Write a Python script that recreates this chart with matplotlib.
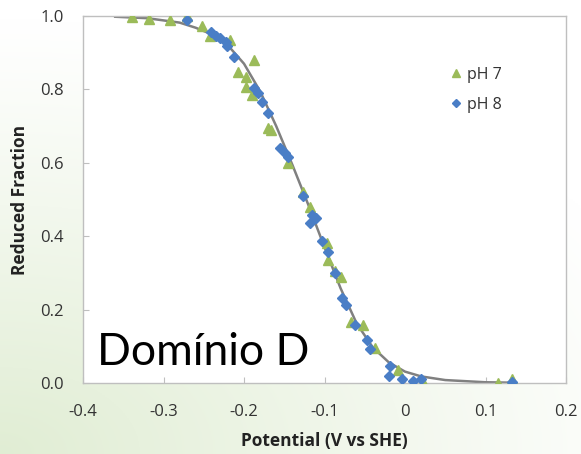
import numpy as np
import matplotlib
matplotlib.use("Agg")
import matplotlib.pyplot as plt
from matplotlib.lines import Line2D

# pH 7 data (green triangles)
ph7_x = [-0.339, -0.318, -0.292, -0.271, -0.252, -0.242, -0.217, -0.188, -0.207, -0.198,
         -0.198, -0.190, -0.170, -0.166, -0.145, -0.127, -0.118, -0.097, -0.096, -0.087,
         -0.080, -0.067, -0.052, -0.037, -0.009, 0.022, 0.116, 0.133]
ph7_y = [0.997, 0.992, 0.989, 1.000, 0.973, 0.946, 0.935, 0.880, 0.847, 0.834,
         0.807, 0.785, 0.695, 0.689, 0.599, 0.520, 0.480, 0.381, 0.335, 0.305,
         0.289, 0.166, 0.158, 0.095, 0.035, 0.003, 0.000, 0.011]

# pH 8 data (blue diamonds)
ph8_x = [-0.271, -0.241, -0.235, -0.230, -0.222, -0.221, -0.212, -0.188, -0.183, -0.178,
         -0.170, -0.155, -0.149, -0.145, -0.127, -0.116, -0.111, -0.118, -0.103, -0.096,
         -0.087, -0.078, -0.073, -0.062, -0.047, -0.043, -0.019, -0.020, -0.004, 0.010,
         0.020, 0.133]
ph8_y = [0.989, 0.956, 0.946, 0.940, 0.929, 0.918, 0.888, 0.804, 0.790, 0.766,
         0.736, 0.640, 0.627, 0.616, 0.510, 0.458, 0.450, 0.436, 0.387, 0.357,
         0.300, 0.232, 0.213, 0.158, 0.117, 0.093, 0.046, 0.019, 0.011, 0.005,
         0.011, 0.003]

# fitted curve
fit_x = [-0.36, -0.32, -0.28, -0.26, -0.24, -0.22, -0.20, -0.18, -0.16, -0.14, -0.12,
         -0.10, -0.08, -0.06, -0.04, -0.02, 0.00, 0.02, 0.05, 0.10, 0.13]
fit_y = [0.998, 0.994, 0.982, 0.968, 0.950, 0.920, 0.870, 0.795, 0.700, 0.595, 0.485,
         0.370, 0.258, 0.162, 0.097, 0.056, 0.031, 0.018, 0.008, 0.002, 0.001]

x_ticks = [-0.4, -0.3, -0.2, -0.1, 0, 0.1, 0.2]
x_tick_labels = ["-0.4", "-0.3", "-0.2", "-0.1", "0", "0.1", "0.2"]
y_ticks = [0.0, 0.2, 0.4, 0.6, 0.8, 1.0]
y_tick_labels = ["0.0", "0.2", "0.4", "0.6", "0.8", "1.0"]

GREEN = "#9BBB59"
BLUE = "#4A7EC6"

plt.rcParams['font.family'] = ['Open Sans', 'DejaVu Sans']

fig = plt.figure(figsize=(5.81, 4.54), dpi=100)

# background gradient
bg = fig.add_axes([0, 0, 1, 1], zorder=-10)
h, w = 200, 256
yy, xx = np.mgrid[0:h, 0:w]
u = xx / (w - 1)
v = 1 - yy / (h - 1)  # 0 at bottom
d = np.sqrt((u * 0.95) ** 2 + (v * 1.2) ** 2)
wgt = np.clip(1 - d / 1.15, 0, 1) ** 1.1
base = np.array([1.0, 1.0, 1.0])
tint = np.array([0.88, 0.93, 0.83])
img = base[None, None, :] * (1 - wgt[..., None]) + tint[None, None, :] * wgt[..., None]
bg.imshow(img, aspect='auto', extent=[0, 1, 0, 1], origin='upper')
bg.set_axis_off()

ax = fig.add_axes([83 / 581, 1 - 383 / 454, (566 - 83) / 581, (383 - 16) / 454])
ax.set_facecolor("white")

ax.plot(fit_x, fit_y, color="#808080", lw=1.8, zorder=2)
ax.plot(ph7_x, ph7_y, linestyle="none", marker="^", ms=7.5, color=GREEN, mec=GREEN, zorder=3)
ax.plot(ph8_x, ph8_y, linestyle="none", marker="D", ms=5.5, color=BLUE, mec=BLUE, zorder=4)

ax.set_xlim(-0.4, 0.2)
ax.set_ylim(0, 1.0)
ax.set_xticks(x_ticks)
ax.set_xticklabels(x_tick_labels)
ax.set_yticks(y_ticks)
ax.set_yticklabels(y_tick_labels)
ax.tick_params(direction="in", length=4, color="#BFBFBF", labelsize=12,
               labelcolor="#333333")
ax.tick_params(axis="x", pad=15)
ax.tick_params(axis="y", pad=14)
for s in ax.spines.values():
    s.set_color("#BFBFBF")
    s.set_linewidth(1.0)

ax.set_xlabel("Potential (V vs SHE)", fontsize=12.5, fontweight="bold", color="#222222", labelpad=9)
ax.set_ylabel("Reduced Fraction", fontsize=12.5, fontweight="bold", color="#222222", labelpad=8)

handles = [Line2D([], [], linestyle="none", marker="^", ms=6, color=GREEN, label="pH 7"),
           Line2D([], [], linestyle="none", marker="D", ms=4.5, color=BLUE, label="pH 8")]
ax.legend(handles=handles, loc="upper left", bbox_to_anchor=(0.725, 0.90), frameon=False,
          fontsize=11.5, handletextpad=0.2, labelspacing=0.85, handlelength=1.0,
          labelcolor="#333333")

ax.text(0.028, 0.05, "Domínio D", transform=ax.transAxes, fontsize=32,
        family=["Lato", "DejaVu Sans"], fontweight="normal", color="black",
        ha="left", va="baseline")

fig.savefig("out.png", dpi=100)
